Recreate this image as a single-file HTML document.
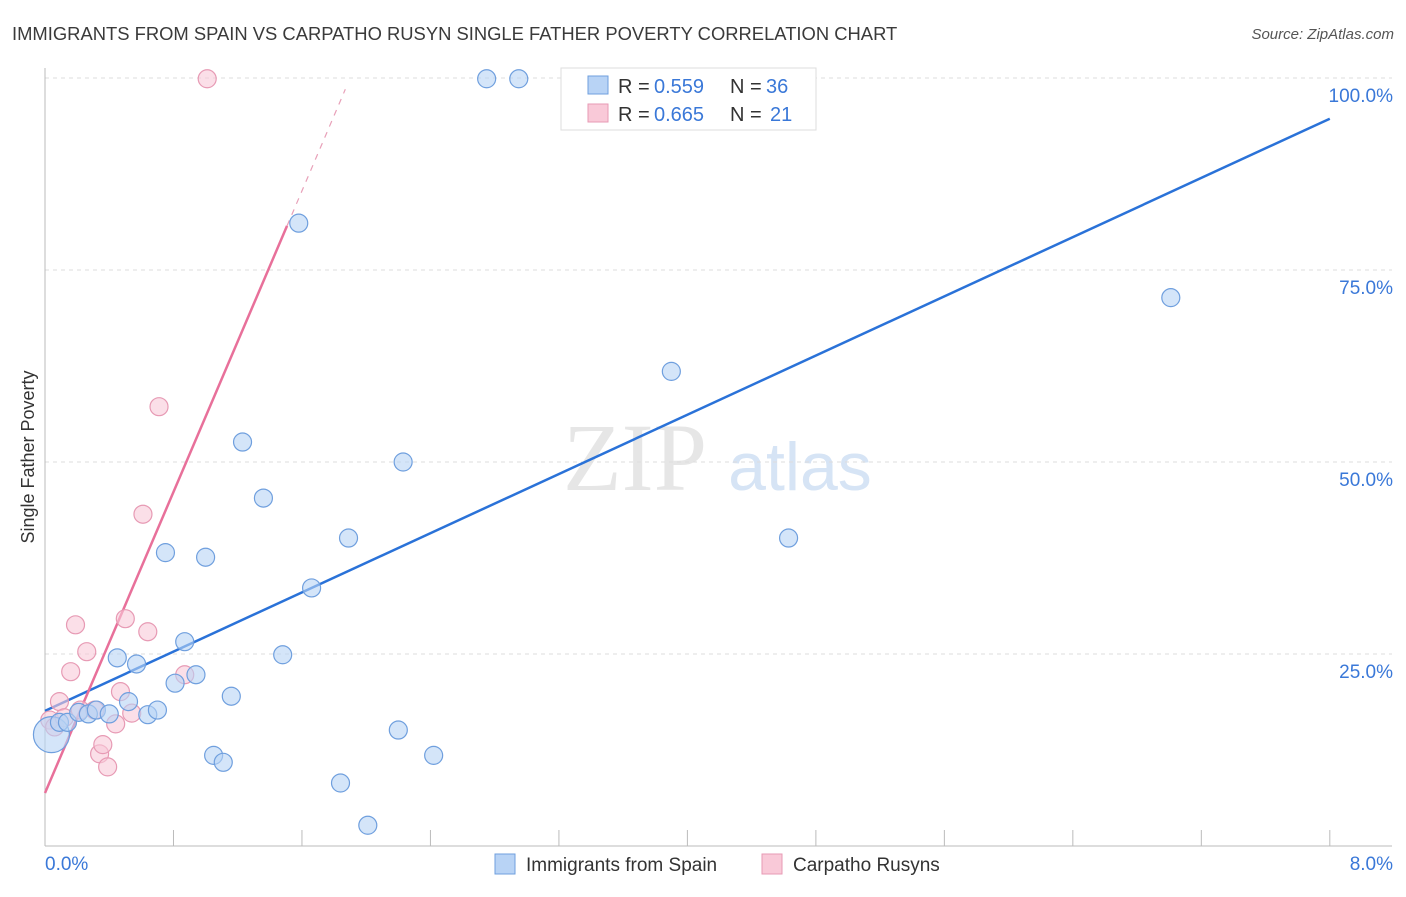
<!DOCTYPE html>
<html><head><meta charset="utf-8"><style>
body{margin:0;background:#fff;font-family:"Liberation Sans",sans-serif;}
svg text{font-family:"Liberation Sans",sans-serif;}
</style></head><body>
<svg id="chart" width="1406" height="892">
<text x="12" y="40" font-size="18.4" fill="#3a3a3a">IMMIGRANTS FROM SPAIN VS CARPATHO RUSYN SINGLE FATHER POVERTY CORRELATION CHART</text>
<text x="1394" y="39" font-size="15" font-style="italic" fill="#555" text-anchor="end">Source: ZipAtlas.com</text>
<text x="635" y="490" font-size="96" fill="#e6e6e6" text-anchor="middle" style="font-family:'Liberation Serif',serif">ZIP</text>
<text x="800" y="490" font-size="68" fill="#d6e4f5" text-anchor="middle">atlas</text>
<g id="grid"></g><g id="axes"></g><g id="lines"></g><g id="pts"></g>
<text transform="translate(34,457) rotate(-90)" font-size="18" fill="#333" text-anchor="middle">Single Father Poverty</text>
<g>
<rect x="561" y="68" width="255" height="62" fill="#fff" stroke="#ddd"/>
<rect x="588" y="76" width="20" height="18" fill="#b8d3f5" stroke="#6f9fde"/>
<rect x="588" y="104" width="20" height="18" fill="#f9c9d8" stroke="#e79ab4"/>
<text x="618" y="93" font-size="20" fill="#333">R =</text>
<text x="654" y="93" font-size="20" fill="#3a78d8">0.559</text>
<text x="730" y="93" font-size="20" fill="#333">N =</text>
<text x="766" y="93" font-size="20" fill="#3a78d8">36</text>
<text x="618" y="121" font-size="20" fill="#333">R =</text>
<text x="654" y="121" font-size="20" fill="#3a78d8">0.665</text>
<text x="730" y="121" font-size="20" fill="#333">N =</text>
<text x="770" y="121" font-size="20" fill="#3a78d8">21</text>
</g>
<g>
<rect x="495" y="854" width="20" height="20" fill="#b8d3f5" stroke="#6f9fde"/>
<text x="526" y="871" font-size="19" fill="#333">Immigrants from Spain</text>
<rect x="762" y="854" width="20" height="20" fill="#f9c9d8" stroke="#e79ab4"/>
<text x="793" y="871" font-size="19" fill="#333">Carpatho Rusyns</text>
</g>
</svg>
<script>
const yTicks=[25,50,75,100];
const yTickLabels=["25.0%","50.0%","75.0%","100.0%"];
const xLabels=["0.0%","8.0%"];
const blueX=[0.04,0.09,0.14,0.21,0.27,0.32,0.40,0.45,0.52,0.57,0.64,0.70,0.75,0.81,0.87,0.94,1.00,1.05,1.11,1.16,1.23,1.36,1.48,1.58,1.66,1.84,1.89,2.01,2.20,2.23,2.42,2.75,2.95,3.90,4.63,7.01];
const blueY=[14.5,16.1,16.1,17.4,17.2,17.7,17.2,24.5,18.8,23.7,17.1,17.7,38.2,21.2,26.6,22.3,37.6,11.8,10.9,19.5,52.6,45.3,24.9,81.1,33.6,8.2,40.1,2.7,15.1,50.0,11.8,99.9,99.9,61.8,40.1,71.4];
const pinkX=[0.03,0.06,0.09,0.12,0.16,0.19,0.22,0.26,0.31,0.34,0.36,0.39,0.44,0.47,0.50,0.54,0.61,0.64,0.71,0.87,1.01];
const pinkY=[16.4,15.5,18.8,16.7,22.7,28.8,17.7,25.3,17.7,12.0,13.2,10.3,15.9,20.1,29.6,17.3,43.2,27.9,57.2,22.3,99.9];
const blueLine=[17.6,94.7];
const pinkLine=[6.9,49.0];
const X=v=>45+v*160.6, Y=v=>846-v*7.68;
const NS="http://www.w3.org/2000/svg";
function mk(p,t,a){const e=document.createElementNS(NS,t);for(const k in a)e.setAttribute(k,a[k]);document.getElementById(p).appendChild(e);return e;}
yTicks.forEach((t,i)=>{
 const l=mk('grid','line',{x1:45,x2:1392,y1:Y(t),y2:Y(t),stroke:'#ddd','stroke-dasharray':'4,4'});
 
 
 const tx=mk('grid','text',{x:1393,y:Y(t)+24,'font-size':19,fill:'#3a78d8','text-anchor':'end'});
 tx.textContent=yTickLabels[i];
 
 
});
mk('axes','line',{x1:45,x2:45,y1:68,y2:846,stroke:'#bbb'});
mk('axes','line',{x1:45,x2:1392,y1:846,y2:846,stroke:'#bbb'});
for(let i=1;i<=10;i++){const t=mk('axes','line',{x1:X(i*0.8),x2:X(i*0.8),y1:830,y2:846,stroke:'#bbb'});}
[[0,'start',45],[8,'end',1393]].forEach((d,i)=>{const t=mk('axes','text',{x:d[2],y:870,'font-size':19,fill:'#3a78d8','text-anchor':d[1]});t.textContent=xLabels[i];});
function pts(xs,ys,f,s){xs.forEach((x,i)=>{const c=mk('pts','circle',{cx:X(x),cy:Y(ys[i]),r:(i==0&&f=='#b8d3f5')?18:9,fill:f,'fill-opacity':0.6,stroke:s,'stroke-width':1.2});});}
pts(pinkX,pinkY,'#f9c9d8','#e79ab4');
pts(blueX,blueY,'#b8d3f5','#6f9fde');
const bl=mk('lines','line',{x1:X(0),y1:Y(blueLine[0]),x2:X(8),y2:Y(blueLine[1]),stroke:'#2a72d8','stroke-width':2.5});

const pe=1.507,pd=1.87;
const pl=mk('lines','line',{x1:X(0),y1:Y(pinkLine[0]),x2:X(pe),y2:Y(pinkLine[0]+pinkLine[1]*pe),stroke:'#e8709a','stroke-width':2.5});

const pdl=mk('lines','line',{x1:X(pe),y1:Y(pinkLine[0]+pinkLine[1]*pe),x2:X(pd),y2:Y(pinkLine[0]+pinkLine[1]*pd),stroke:'#e8a0b8','stroke-width':1.2,'stroke-dasharray':'6,6'});

</script>
</body></html>
